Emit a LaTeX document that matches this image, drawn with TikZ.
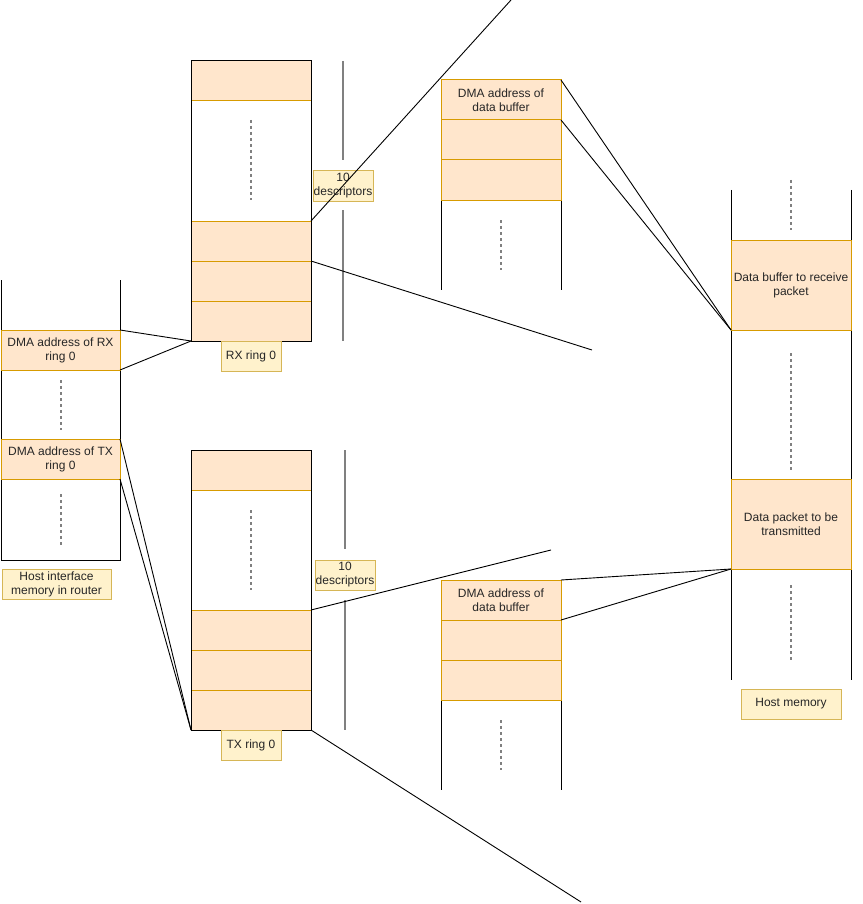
\documentclass[tikz,border=0pt]{standalone}
\usepackage{fontspec}
\setmainfont{Liberation Sans}
\definecolor{ofill}{HTML}{FFE6CC}
\definecolor{odraw}{HTML}{D79B00}
\definecolor{yfill}{HTML}{FFF2CC}
\definecolor{ydraw}{HTML}{D6B656}
\definecolor{dotgray}{HTML}{808080}
\tikzset{
  every node/.style={font=\fontsize{12}{14}\selectfont, inner sep=0pt, outer sep=0pt, align=center, text=black!85},
  obox/.style={draw=odraw, fill=ofill, line width=1pt, minimum width=120pt, minimum height=40pt},
  ybox/.style={draw=ydraw, fill=yfill, line width=1pt, minimum height=30pt},
  ringrect/.style={draw=black, line width=1pt, minimum width=120pt, minimum height=280pt},
  wall/.style={draw=black, line width=1pt},
  dots/.style={draw=dotgray, line width=1.5pt, dash pattern=on 3pt off 3pt},
  spanline/.style={draw=dotgray, line width=1.5pt},
  link/.style={draw=black, line width=0.9pt},
}
\begin{document}
\begin{tikzpicture}[x=1pt,y=-1pt]
\useasboundingbox (0,0) rectangle (862,904);

% ---------- Host interface memory in router ----------
\draw[wall] (1,280) -- (1,560) -- (120,560) -- (120,280);
\node[obox, minimum width=119pt] (hrx) at (60.5,350) {DMA address of RX\\ring 0};
\node[obox, minimum width=119pt] (htx) at (60.5,459) {DMA address of TX\\ring 0};
\draw[dots] (61,380) -- (61,430);
\draw[dots] (61,494) -- (61,545);
\node[ybox, minimum width=109pt] (hlab) at (56.5,584.5) {Host interface\\memory in router};

% ---------- RX ring 0 ----------
\node[obox] (rx1) at (251,81) {};
\node[obox] (rx2) at (251,241) {};
\node[obox] (rx3) at (251,281) {};
\node[obox] (rx4) at (251,321) {};
\node[ringrect] (rxring) at (251,201) {};
\draw[dots] (251,120) -- (251,200);
\node[ybox, minimum width=60pt] (rxlab) at (251,356) {RX ring 0};
\draw[spanline] (343,61) -- (343,160);
\draw[spanline] (343,210) -- (343,341);
\node[ybox, minimum width=60pt] (rxdesc) at (343,186) {10\\descriptors};

% ---------- TX ring 0 ----------
\node[obox] (tx1) at (251,470) {};
\node[obox] (tx2) at (251,630) {};
\node[obox] (tx3) at (251,670) {};
\node[obox] (tx4) at (251,710) {};
\node[ringrect] (txring) at (251,590) {};
\draw[dots] (251,510) -- (251,590);
\node[ybox, minimum width=60pt] (txlab) at (251,745.5) {TX ring 0};
\draw[spanline] (345,450) -- (345,549);
\draw[spanline] (345,600) -- (345,730);
\node[ybox, minimum width=60pt] (txdesc) at (345,575) {10\\descriptors};

% ---------- RX data buffer descriptors ----------
\draw[wall] (441,80) -- (441,290);
\draw[wall] (561,80) -- (561,290);
\node[obox] (rb1) at (501,100) {DMA address of\\data buffer};
\node[obox] (rb2) at (501,140) {};
\node[obox] (rb3) at (501,180) {};
\draw[dots] (501,220) -- (501,270);

% ---------- TX data buffer descriptors ----------
\draw[wall] (441,580) -- (441,790);
\draw[wall] (561,580) -- (561,790);
\node[obox] (tb1) at (501,600) {DMA address of\\data buffer};
\node[obox] (tb2) at (501,640) {};
\node[obox] (tb3) at (501,680) {};
\draw[dots] (501,720) -- (501,770);

% ---------- Host memory ----------
\draw[wall] (731,190) -- (731,680);
\draw[wall] (851,190) -- (851,680);
\draw[dots] (791,180) -- (791,230);
\node[obox, minimum height=90pt] (hmrx) at (791,285) {Data buffer to receive\\packet};
\draw[dots] (791,353) -- (791,470);
\node[obox, minimum height=90pt] (hmtx) at (791,524) {Data packet to be\\transmitted};
\draw[dots] (791,585) -- (791,660);
\node[ybox, minimum width=100pt] (hmlab) at (791,704) {Host memory};

% ---------- free ends of zoom lines ----------
\coordinate (zr1) at (511,0);
\coordinate (zr2) at (592,350);
\coordinate (zt1) at (551,550);
\coordinate (zt2) at (581,902);

% ---------- connectors ----------
\draw[link] (hrx.north east) -- (rxring.south west);
\draw[link] (hrx.south east) -- (rxring.south west);
\draw[link] (htx.north east) -- (txring.south west);
\draw[link] (htx.south east) -- (txring.south west);

\draw[link] (rx2.north east) -- (zr1);
\draw[link] (rx3.north east) -- (zr2);
\draw[link] (tx2.north east) -- (zt1);
\draw[link] (txring.south east) -- (zt2);

\draw[link] (rb1.north east) -- (hmrx.south west);
\draw[link] (rb2.north east) -- (hmrx.south west);
\draw[link] (tb1.north east) -- (hmtx.south west);
\draw[link] (tb2.north east) -- (hmtx.south west);
\end{tikzpicture}
\end{document}
